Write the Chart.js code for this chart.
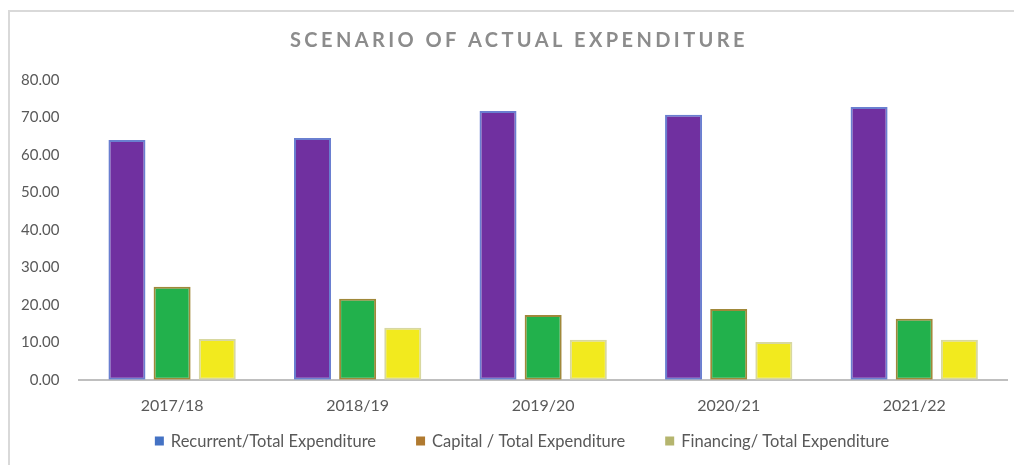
<!DOCTYPE html>
<html>
<head>
<meta charset="utf-8">
<script src="https://cdn.jsdelivr.net/npm/chart.js@4.4.1/dist/chart.umd.min.js"></script>
<style>
    html, body { margin: 0; padding: 0; background: #fff; }
    #wrap { position: relative; width: 1014px; height: 465px; overflow: hidden; }
    #frame {
        position: absolute; left: 8px; top: 10px; width: 1020px; height: 470px;
        border-top: 2px solid #d9d9d9; border-left: 2px solid #d9d9d9;
    }
    #chart { position: absolute; left: 0; top: 0; }
</style>
</head>
<body>
<div id="wrap">
    <div id="frame"></div>
    <canvas id="chart" width="1014" height="465"></canvas>
</div>
<script>
// Data
const years = ['2017/18', '2018/19', '2019/20', '2020/21', '2021/22'];
const recurrent = [64.0, 64.5, 71.7, 70.7, 72.8];
const capital = [24.8, 21.6, 17.3, 18.9, 16.3];
const financing = [10.9, 13.9, 10.7, 10.1, 10.7];
const yTicks = [0, 10, 20, 30, 40, 50, 60, 70, 80];

const seriesNames = ['Recurrent/Total Expenditure', 'Capital / Total Expenditure', 'Financing/ Total Expenditure'];
const legendColors = ['#4472c4', '#b07a30', '#b5b56e'];

const FONT = 'Lato, "Liberation Sans", sans-serif';

// Title drawn by hand so the letter spacing can match
const spacedTitle = {
    id: 'spacedTitle',
    afterDraw(chart) {
        const ctx = chart.ctx;
        ctx.save();
        ctx.font = 'bold 20px ' + FONT;
        ctx.fillStyle = '#8c8c8c';
        ctx.textAlign = 'center';
        ctx.textBaseline = 'middle';
        if ('letterSpacing' in ctx) ctx.letterSpacing = '3.4px';
        ctx.fillText('SCENARIO OF ACTUAL EXPENDITURE', 519, 41);
        ctx.restore();
    }
};

// Legend row at the bottom (Excel style: small square, wide gaps)
const bottomLegend = {
    id: 'bottomLegend',
    afterDraw(chart) {
        const ctx = chart.ctx;
        const box = 9, gap = 40, fs = 16.5;
        ctx.save();
        ctx.font = fs + 'px ' + FONT;
        ctx.textBaseline = 'middle';
        const widths = seriesNames.map(function(n) { return box + 7 + ctx.measureText(n).width; });
        const total = widths.reduce(function(a, b) { return a + b; }, 0) + gap * (widths.length - 1);
        let x = 522 - total / 2;
        const y = 441;
        seriesNames.forEach(function(name, i) {
            ctx.fillStyle = legendColors[i];
            ctx.fillRect(x, y - box / 2, box, box);
            ctx.fillStyle = '#595959';
            ctx.fillText(name, x + box + 7, y + 1);
            x += widths[i] + gap;
        });
        ctx.restore();
    }
};

function barSet(i, data, fill, border) {
    return {
        label: seriesNames[i],
        data: data,
        backgroundColor: fill,
        borderColor: border,
        borderWidth: 2,
        borderSkipped: false,
        categoryPercentage: 0.73,
        barPercentage: 0.82
    };
}

new Chart(document.getElementById('chart'), {
    type: 'bar',
    data: {
        labels: years,
        datasets: [
            barSet(0, recurrent, '#7030a0', '#6a7fd0'),
            barSet(1, capital, '#22b14c', '#a0883a'),
            barSet(2, financing, '#f2ea1e', '#d8d8a0')
        ]
    },
    options: {
        responsive: false,
        animation: false,
        layout: {
            padding: { left: 9, right: 7, top: 80, bottom: 34 }
        },
        plugins: {
            title: { display: false },
            tooltip: { enabled: false },
            legend: { display: false }
        },
        scales: {
            y: {
                min: 0,
                max: 80,
                afterBuildTicks: function(axis) {
                    axis.ticks = yTicks.map(function(v) { return { value: v }; });
                },
                grid: { display: false },
                border: { display: false },
                ticks: {
                    padding: 12,
                    color: '#595959',
                    font: { family: FONT, size: 15 },
                    callback: function(v) { return Number(v).toFixed(2); }
                }
            },
            x: {
                grid: { display: false, drawTicks: false },
                border: { display: true, color: '#bfbfbf', width: 2 },
                ticks: {
                    padding: 16,
                    color: '#595959',
                    font: { family: FONT, size: 16 }
                }
            }
        }
    },
    plugins: [spacedTitle, bottomLegend]
});
</script>
</body>
</html>
